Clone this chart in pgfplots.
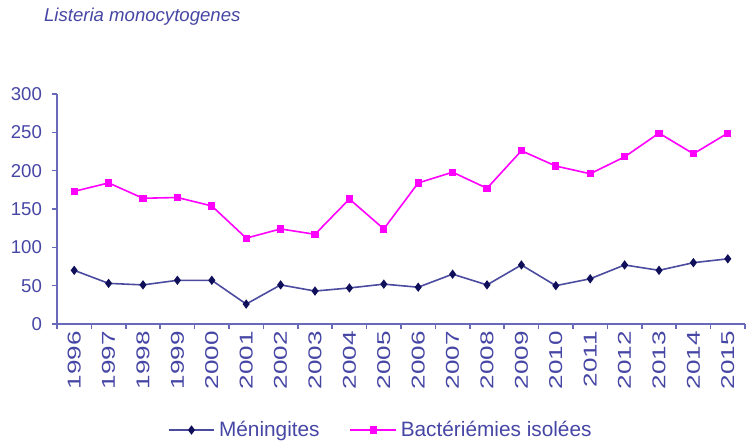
\documentclass[border=0pt]{standalone}
\usepackage{pgfplots}
\pgfplotsset{compat=1.18}
\usepackage{fontspec}
\setmainfont{Liberation Sans}
\usetikzlibrary{calc}
\definecolor{txt}{RGB}{70,70,165}
\definecolor{axc}{RGB}{105,105,185}
\definecolor{men}{RGB}{75,75,160}
\definecolor{menm}{RGB}{15,15,90}
\definecolor{bac}{RGB}{255,0,255}
\newcommand{\sx}[1]{\scalebox{1.4}[1]{#1}}
\newcommand{\fs}{\fontsize{9.3}{11}\selectfont}
\newcommand{\fl}{\fontsize{10.4}{12}\selectfont}
\begin{document}
\begin{tikzpicture}
\begin{axis}[name=ax, scale only axis, width=344pt, height=115pt,
  xmin=1995.5, xmax=2015.5, ymin=0, ymax=300,
  clip=false,
  axis x line*=bottom, axis y line*=left,
  axis line style={axc, line width=0.8pt, -},
  xtick={1996,...,2015},
  xticklabels={\sx{1996},\sx{1997},\sx{1998},\sx{1999},\sx{2000},\sx{2001},\sx{2002},\sx{2003},\sx{2004},\sx{2005},\sx{2006},\sx{2007},\sx{2008},\sx{2009},\sx{2010},\sx{2011},\sx{2012},\sx{2013},\sx{2014},\sx{2015}},
  minor xtick={1995.5,1996.5,...,2015.5},
  ytick={0,50,...,300},
  minor ytick={0,50,...,300},
  yticklabels={0,50,100,150,200,250,300},
  tick align=outside,
  major tick length=0pt, minor tick length=2.5pt,
  minor tick style={axc, line width=0.8pt},
  xticklabel style={rotate=90, anchor=east, font=\fs, text=txt},
  yticklabel style={font=\fs, text=txt, xshift=-4pt},
  legend style={draw=none, fill=none, at={(0.472,-0.461)}, anchor=center,
    legend columns=2, font=\fl, text=txt,
    /tikz/every even column/.append style={column sep=13pt}},
  legend image code/.code={\draw[mark repeat=2,mark phase=2] plot coordinates {(0cm,0cm)(0.4cm,0cm)(0.8cm,0cm)};},
]
\addplot[color=men, line width=0.8pt, mark=diamond*, mark size=1.7pt, mark options={fill=menm, draw=menm, solid}] coordinates {
(1996,70)(1997,53)(1998,51)(1999,57)(2000,57)(2001,26)(2002,51)(2003,43)(2004,47)(2005,52)
(2006,48)(2007,65)(2008,51)(2009,77)(2010,50)(2011,59)(2012,77)(2013,70)(2014,80)(2015,85)};
\addplot[color=bac, line width=0.8pt, mark=square*, mark size=1.4pt, mark options={fill=bac, draw=bac, solid}] coordinates {
(1996,173)(1997,184)(1998,164)(1999,165)(2000,154)(2001,112)(2002,124)(2003,117)(2004,163)(2005,124)
(2006,184)(2007,198)(2008,177)(2009,226)(2010,206)(2011,196)(2012,218)(2013,249)(2014,222)(2015,249)};
\legend{Méningites, Bactériémies isolées}
\node[anchor=west, font=\fs\itshape, text=txt] at ($(rel axis cs:0,1)+(-10pt,38.5pt)$) {Listeria monocytogenes};
\end{axis}
\pgfresetboundingbox
\path[use as bounding box] ($(ax.south west)+(-28.5pt,-60pt)$) rectangle ($(ax.north east)+(0.5pt,47pt)$);
\end{tikzpicture}
\end{document}
